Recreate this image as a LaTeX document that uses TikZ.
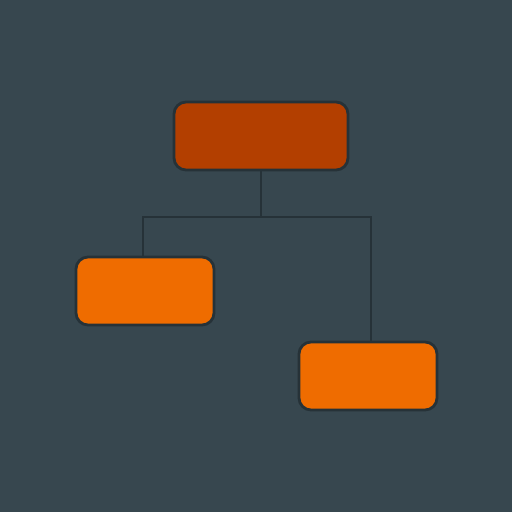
\documentclass[tikz,border=0pt]{standalone}
\begin{document}
\begin{tikzpicture}[x=1pt,y=-1pt,
  box/.style={draw=edgec,line width=2.8pt,rounded corners=12pt,inner sep=0pt,minimum height=68pt},
  link/.style={draw=edgec,line width=2.5pt}]
\definecolor{bgc}{HTML}{37474F}
\definecolor{edgec}{HTML}{263238}
\definecolor{rootc}{HTML}{B33F00}
\definecolor{leafc}{HTML}{EF6C00}
\fill[bgc] (0,0) rectangle (512,512);
\useasboundingbox (0,0) rectangle (512,512);
\coordinate (j) at (261,217);
\coordinate (lj) at (143,217);
\coordinate (rj) at (371,217);
\node[box,fill=rootc,minimum width=174pt] (top) at (261,136) {};
\node[box,fill=leafc,minimum width=138pt] (left) at (145,291) {};
\node[box,fill=leafc,minimum width=138pt] (right) at (368,376) {};
\draw[link] (j |- top.south) -- (j);
\draw[link] (lj |- left.north) -- (lj) -- (rj) -- (rj |- right.north);
\end{tikzpicture}
\end{document}
